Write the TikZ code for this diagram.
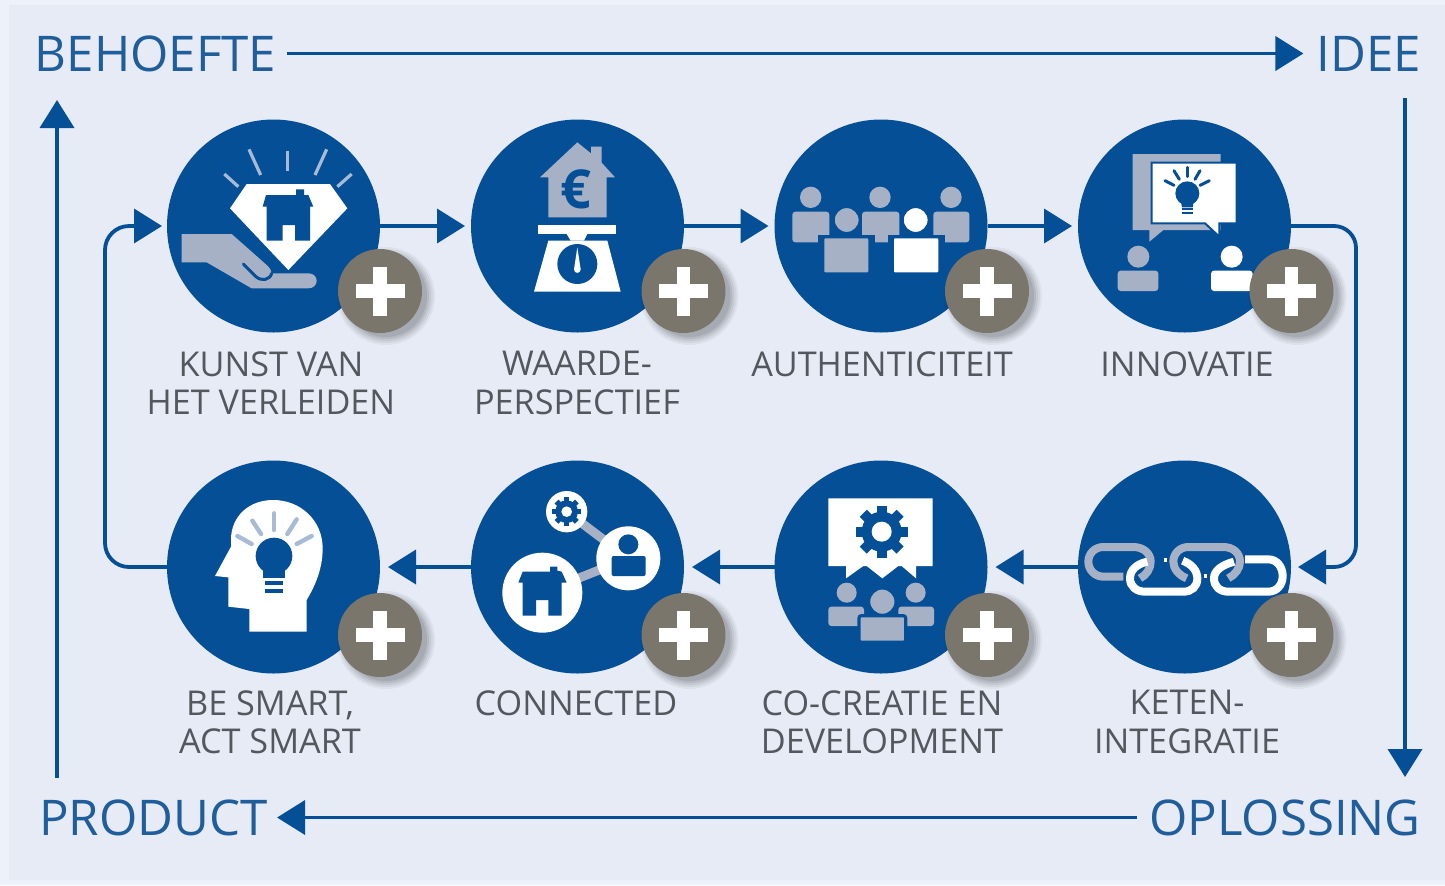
\documentclass[tikz,border=0pt]{standalone}
\usepackage{fontspec}
\setmainfont{Open Sans}
\usetikzlibrary{arrows.meta}
\definecolor{bgout}{HTML}{EDF1F9}
\definecolor{bgin}{HTML}{E6EBF5}
\definecolor{dblue}{HTML}{054F97}
\definecolor{tblue}{HTML}{1F5D9B}
\definecolor{lgray}{HTML}{A6B1C6}
\definecolor{ray}{HTML}{A8BBD5}
\definecolor{bgray}{HTML}{7B766B}
\definecolor{lblc}{HTML}{53585F}
\tikzset{
  x=0.5pt,y=-0.5pt,
  bigcirc/.style={circle,fill=dblue,minimum size=106.5pt,inner sep=0pt,outer sep=0pt},
  badge/.style={circle,fill=bgray,minimum size=42pt,inner sep=0pt,outer sep=0pt},
  title/.style={font=\fontsize{24.6pt}{26pt}\selectfont,text=tblue,anchor=base,inner xsep=7.5pt,inner ysep=0pt,text height=17.5pt,text depth=0pt},
  lbl/.style={font=\fontsize{17.1pt}{19.25pt}\selectfont,text=lblc,align=center,anchor=north,inner sep=0pt},
  flow/.style={draw=dblue,line width=1.9pt,-{Triangle[length=14pt,width=17pt]}},
  zm/.style 2 args={shift={(#1,#2)},scale=1/3},
  pers/.style={fill=lgray,draw=dblue,line width=1.6pt,rounded corners=1.2pt},
  rayl/.style={draw=ray,line width=1.6pt},
  bl/.style={draw=dblue,line width=1.5pt,line cap=round},
  chg/.style={draw=lgray,line width=4pt,line cap=butt},
  chw/.style={draw=white,line width=4pt,line cap=butt},
}
\newcommand{\gearicon}[6]{% cx cy ro ri hole toothhalf
  \fill[dblue] (#1,#2) circle (#4);
  \foreach \a in {0,45,90,135}{
    \fill[dblue,rotate around={\a:(#1,#2)}] ({#1-#3},{#2-#6}) rectangle ({#1+#3},{#2+#6});
  }
  \fill[white] (#1,#2) circle (#5);
}
\newcommand{\plusbadge}[3]{% name x y
  \foreach \r/\o in {49/.04,47/.05,45/.06,43/.07,41/.08}{
    \fill[black,opacity=\o] ({#2+6},{#3+5}) circle (\r);
  }
  \node[badge] (#1) at (#2,#3) {};
  \fill[white] ({#2-24.5},{#3-6.7}) rectangle ({#2+24.5},{#3+6.7});
  \fill[white] ({#2-6.7},{#3-24.5}) rectangle ({#2+6.7},{#3+24.5});
}
\begin{document}
\begin{tikzpicture}
\useasboundingbox (0,0) rectangle (1445,885);
\fill[bgout] (0,0) rectangle (1445,885);
\fill[bgin] (9,5) rectangle (1445,880);

% main circles
\node[bigcirc] (c1) at (273.5,226) {};
\node[bigcirc] (c2) at (577.5,226) {};
\node[bigcirc] (c3) at (881,226) {};
\node[bigcirc] (c4) at (1184.5,226) {};
\node[bigcirc] (c5) at (1184.5,567) {};
\node[bigcirc] (c6) at (881,567) {};
\node[bigcirc] (c7) at (577.5,567) {};
\node[bigcirc] (c8) at (273.5,567) {};

% titles
\node[title] (behoefte) at (155.5,71) {BEHOEFTE};
\node[title] (idee) at (1369,71) {IDEE};
\node[title] (oplossing) at (1285,835) {OPLOSSING};
\node[title] (product) at (153.5,835) {PRODUCT};

\coordinate (ideeout) at (1405,98);
\coordinate (oplin) at (1405,777);
\coordinate (prodout) at (57,778);
\coordinate (behin) at (57,100);
\coordinate (rt) at (1356,226);
\coordinate (rb) at (1356,567);
\coordinate (lb) at (105,567);
\coordinate (lt) at (105,226);

% outer cycle
\draw[flow,shorten <=-2.5pt,shorten >=-1pt] (behoefte.east) -- (idee.west);
\draw[flow] (ideeout) -- (oplin);
\draw[flow,shorten <=-1.5pt,shorten >=-3pt] (oplossing.west) -- (product.east);
\draw[flow] (prodout) -- (behin);

% inner connectors
\draw[flow,shorten >=3pt] (c1.east) -- (c2.west);
\draw[flow,shorten >=3pt] (c2.east) -- (c3.west);
\draw[flow,shorten >=3pt] (c3.east) -- (c4.west);
\draw[flow,rounded corners=11pt,shorten >=3.5pt] (c4.east) -- (rt) -- (rb) -- (c5.east);
\draw[flow,shorten >=4pt] (c5.west) -- (c6.east);
\draw[flow,shorten >=4pt] (c6.west) -- (c7.east);
\draw[flow,shorten >=4pt] (c7.west) -- (c8.east);
\draw[flow,rounded corners=12pt,shorten >=2.5pt] (c8.west) -- (lb) -- (lt) -- (c1.west);

% icon 1: diamond and hand
\begin{scope}[zm={100}{110}]
  \foreach \a/\b/\c/\d in {447/118/482/195,563/122/563/182,680/118/645/195,373/192/415/230,755/192/712/230}{
    \draw[rayl] (\a,\b) -- (\c,\d);
  }
  \fill[white] (440,222) -- (690,222) -- (742,295) -- (565,480) -- (390,295) -- cycle;
  \fill[dblue] (488,290) -- (498,255) -- (588,255) -- (588,238) -- (612,238) -- (612,255) -- (625,255) -- (640,290) -- (630,290) -- (630,392) -- (585,392) -- (585,345) -- (548,345) -- (548,392) -- (500,392) -- (500,290) -- cycle;
  \fill[lgray] (245,372) -- (395,372) -- (500,465) .. controls (510,475) and (515,482) .. (515,490) -- (625,490) .. controls (640,490) and (650,500) .. (650,512) .. controls (650,525) and (640,535) .. (625,535) -- (455,535) -- (320,457) -- (245,457) -- cycle;
  \draw[bl] (430,462) -- (468,500) .. controls (485,515) and (510,510) .. (515,490);
\end{scope}

% icon 2: house on scale
\begin{scope}[zm={450}{110}]
  \fill[lgray] (382,97) -- (423,130) -- (423,110) -- (455,110) -- (455,158) -- (495,202) -- (470,202) -- (470,322) -- (295,322) -- (295,202) -- (270,202) -- cycle;
  \node[inner sep=0pt,text=dblue,font=\bfseries\fontsize{27pt}{27pt}\selectfont] (euro) at (378,238) {€};
  \fill[white] (265,345) rectangle (498,372);
  \fill[white] (350,372) -- (412,372) -- (402,392) -- (362,392) -- cycle;
  \fill[white] (295,392) -- (472,392) -- (512,545) -- (252,545) -- cycle;
  \fill[dblue] (382,462) circle (60);
  \fill[white] (382,412) -- (392,478) .. controls (392,492) and (372,492) .. (372,478) -- cycle;
\end{scope}

% icon 3: group
\begin{scope}[zm={760}{110}]
  \foreach \cx/\l/\r in {152/97/208,360/306/418,573/520/628}{
    \fill[lgray] (\cx,262) circle (32);
    \fill[lgray,rounded corners=1.5pt] (\l,305) rectangle (\r,397);
  }
  \fill[dblue] (175,375) rectangle (345,500);
  \fill[dblue] (385,375) rectangle (555,500);
  \draw[pers] (188,380) rectangle (330,492);
  \draw[pers,fill=white] (397,380) rectangle (540,492);
  \draw[fill=lgray,draw=dblue,line width=1.4pt] (260,330) circle (40);
  \draw[fill=white,draw=dblue,line width=1.4pt] (467,330) circle (40);
\end{scope}

% icon 4: speech bubbles
\begin{scope}[zm={1060}{110}]
  \fill[lgray] (218,132) -- (482,132) -- (482,360) -- (310,360) -- (268,395) -- (268,360) -- (218,360) -- cycle;
  \draw[fill=white,draw=dblue,line width=1pt] (275,158) -- (530,158) -- (530,340) -- (478,340) -- (478,380) -- (435,340) -- (275,340) -- cycle;
  \fill[dblue] (382,250) circle (36);
  \fill[dblue] (362,270) -- (402,270) -- (398,292) -- (366,292) -- cycle;
  \foreach \a/\b/\c/\d in {365/298/398/298,365/308/398/308}{\draw[draw=dblue,line width=1.1pt] (\a,\b) -- (\c,\d);}
  \foreach \a/\b/\c/\d in {382/172/382/200,342/182/358/208,420/182/405/208,315/212/342/226,448/212/420/226}{\draw[bl] (\a,\b) -- (\c,\d);}
  \fill[lgray] (235,440) circle (33);
  \fill[lgray,rounded corners=1.5pt] (173,482) rectangle (295,543);
  \fill[white] (515,440) circle (33);
  \fill[white,rounded corners=1.5pt] (453,482) rectangle (578,543);
\end{scope}

% icon 5: chain
\begin{scope}[zm={1060}{450}]
  \draw[chg] (190,380) -- (130,380) .. controls (105,380) and (85,360) .. (85,335) .. controls (85,310) and (105,291) .. (130,291) -- (220,291) .. controls (250,291) and (272,310) .. (272,335) .. controls (272,355) and (260,375) .. (240,385);
  \draw[chg] (380,385) .. controls (355,375) and (340,355) .. (340,335) .. controls (340,310) and (360,291) .. (385,291) -- (490,291) .. controls (520,291) and (540,310) .. (540,335) .. controls (540,355) and (525,375) .. (505,385);
  \draw[chw] (262,335) .. controls (228,342) and (210,362) .. (210,385) .. controls (210,410) and (230,425) .. (255,425) -- (370,425) .. controls (395,425) and (412,410) .. (412,385) .. controls (412,362) and (395,342) .. (368,332);
  \draw[chw] (522,335) .. controls (485,345) and (462,362) .. (462,385) .. controls (462,410) and (480,425) .. (505,425) -- (625,425) .. controls (650,425) and (668,405) .. (668,378) .. controls (668,350) and (650,328) .. (625,328) -- (555,328);
  \fill[white] (312,325) rectangle (320,337);
  \fill[white] (432,373) rectangle (440,385);
\end{scope}

% icon 6: co-creation
\begin{scope}[zm={760}{450}]
  \fill[white] (205,145) -- (518,145) -- (518,348) -- (468,348) -- (468,385) -- (425,348) -- (415,348) -- (367,385) -- (320,348) -- (310,348) -- (258,385) -- (258,348) -- (205,348) -- cycle;
  \gearicon{365}{245}{78}{60}{30}{15}
  \fill[lgray] (260,428) circle (30);
  \fill[lgray] (467,428) circle (30);
  \fill[lgray,rounded corners=1.5pt] (205,470) rectangle (312,528);
  \fill[lgray,rounded corners=1.5pt] (415,470) rectangle (522,528);
  \draw[pers] (297,497) rectangle (437,577);
  \draw[fill=lgray,draw=dblue,line width=1.2pt] (367,455) circle (40);
\end{scope}

% icon 7: connected
\begin{scope}[zm={450}{450}]
  \draw[draw=lgray,line width=4.5pt] (350,185) -- (535,325) -- (277,428);
  \fill[white] (350,185) circle (62);
  \fill[white] (535,325) circle (96);
  \fill[white] (277,428) circle (120);
  \gearicon{350}{185}{43}{34}{16}{8}
  \fill[dblue] (535,283) circle (30);
  \fill[dblue,rounded corners=1pt] (485,318) rectangle (587,378);
  \fill[dblue] (205,398) -- (218,365) -- (300,365) -- (300,350) -- (322,350) -- (322,362) -- (335,365) -- (350,398) -- (335,398) -- (335,497) -- (295,497) -- (295,450) -- (258,450) -- (258,497) -- (218,497) -- (218,398) -- cycle;
\end{scope}

% icon 8: head with bulb
\begin{scope}[zm={100}{450}]
  \fill[white] (620,545) -- (620,450) .. controls (650,400) and (668,350) .. (668,295) .. controls (668,210) and (600,150) .. (520,150) .. controls (445,150) and (395,200) .. (393,265) -- (393,290) -- (345,378) -- (385,382) -- (385,470) -- (448,477) -- (448,545) -- cycle;
  \fill[dblue] (522,318) circle (55);
  \fill[dblue] (490,345) -- (555,345) -- (555,385) -- (490,385) -- cycle;
  \foreach \y in {400,422}{\draw[draw=dblue,line width=2pt] (495,\y) -- (550,\y);}
  \foreach \a/\b/\c/\d in {522/190/522/240,457/212/483/252,590/208/562/252,412/258/455/282,635/258/590/282}{\draw[rayl,line width=2.2pt,line cap=round] (\a,\b) -- (\c,\d);}
\end{scope}

% badges
\plusbadge{b1}{380}{291}
\plusbadge{b2}{683.5}{291}
\plusbadge{b3}{987}{291}
\plusbadge{b4}{1291.5}{291}
\plusbadge{b5}{1291.5}{635}
\plusbadge{b6}{987}{635}
\plusbadge{b7}{683.5}{635}
\plusbadge{b8}{380}{635}

% labels
\node[lbl] (l1) at (271,351) {KUNST VAN\\HET VERLEIDEN};
\node[lbl] (l2) at (577,351) {WAARDE-\\PERSPECTIEF};
\node[lbl] (l3) at (882,351) {AUTHENTICITEIT};
\node[lbl] (l4) at (1187,351) {INNOVATIE};
\node[lbl] (l5) at (1187,690) {KETEN-\\INTEGRATIE};
\node[lbl] (l6) at (882,690) {CO-CREATIE EN\\DEVELOPMENT};
\node[lbl] (l7) at (576,690) {CONNECTED};
\node[lbl] (l8) at (270,690) {BE SMART,\\ACT SMART};
\end{tikzpicture}
\end{document}
